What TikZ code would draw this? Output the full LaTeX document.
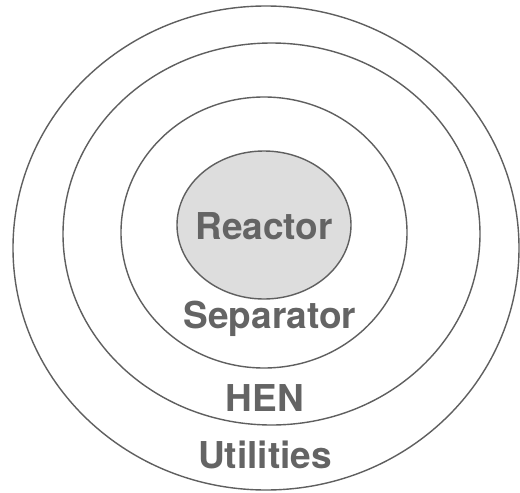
\documentclass[tikz,border=0pt]{standalone}
\usepackage{fontspec}
\setmainfont{TeX Gyre Heros}
\usetikzlibrary{calc}
\definecolor{xRing}{RGB}{95,95,95}
\definecolor{xCore}{RGB}{221,221,221}
\definecolor{xLabel}{RGB}{100,100,100}

\begin{document}
\begin{tikzpicture}[
    x=1pt, y=-1pt,
    ring/.style={xRing, line width=1.4pt},
    layer/.style={text=xLabel, anchor=base, inner sep=0pt,
        font=\fontsize{37}{40}\selectfont\bfseries}
]

    % -------------------------------------------------
    % White background, fixes the page size
    % -------------------------------------------------
    \fill[white] (0,0) rectangle (520,493);
    \useasboundingbox (0,0) rectangle (520,493);

    % -------------------------------------------------
    % Grey core
    % -------------------------------------------------
    \filldraw[
        ring,
        fill=xCore
    ] (264,225) ellipse [x radius=87, y radius=74];

    % -------------------------------------------------
    % Outer shells, from inside to outside
    % -------------------------------------------------
    \draw[ring] (264,232.5) ellipse [x radius=143, y radius=135.5];
    \draw[ring] (271.5,234) ellipse [x radius=208.5, y radius=191];
    \draw[ring] (266,248) ellipse [x radius=253, y radius=242];

    % -------------------------------------------------
    % Layer names, set on their base lines
    % -------------------------------------------------
    \node[layer] (reactor)   at (264,239) {Reactor};
    \node[layer] (separator) at (270,328) {Separator};
    \node[layer] (hen)       at (265,411) {HEN};
    \node[layer] (utilities) at (265,468) {Utilities};
\end{tikzpicture}
\end{document}
